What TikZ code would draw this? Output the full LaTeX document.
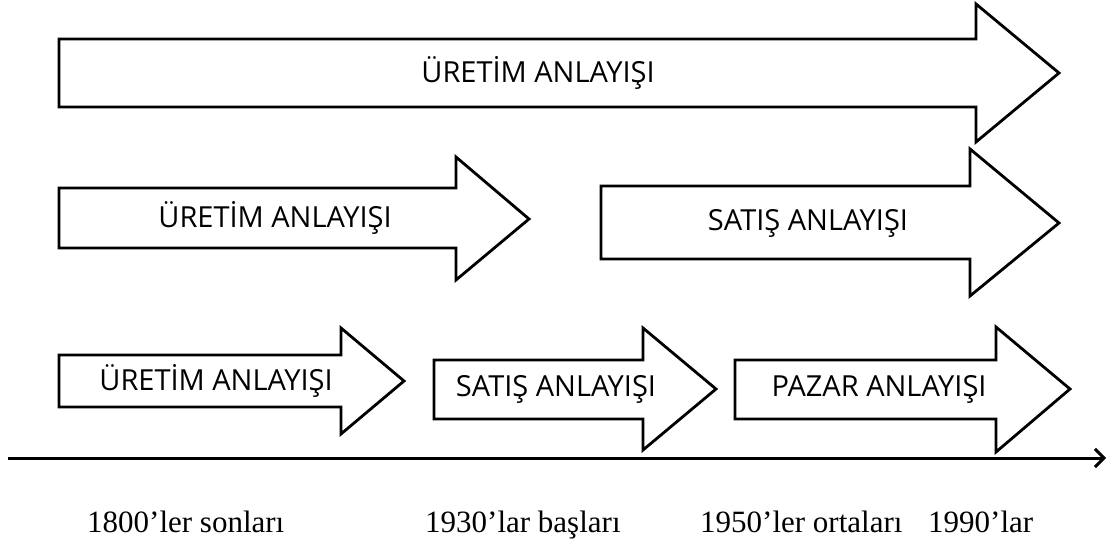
\documentclass[tikz,border=0pt]{standalone}
\usepackage{fontspec}
\newfontfamily\phasefont{Open Sans}
\newfontfamily\periodfont{Liberation Serif}
\usetikzlibrary{arrows.meta}
\tikzstyle{blockarrow} = [draw = black, line width = 2.8pt, fill = white, line join = miter]
\tikzstyle{phase} = [font = \phasefont\fontsize{29}{34}\selectfont, text centered, inner sep = 0pt]
\tikzstyle{period} = [font = \periodfont\fontsize{31}{36}\selectfont, anchor = base west, inner sep = 0pt]
\tikzstyle{timeline} = [line width = 3pt, -{Straight Barb[length = 9pt, width = 18pt]}]

\begin{document}
\begin{tikzpicture}[x = 1pt, y = -1pt]
    \useasboundingbox (0,0) rectangle (1107,545);

    % first row
    \draw[blockarrow] (59,39) -- (976,39) -- (976,4) -- (1059,73) -- (976,142) -- (976,107) -- (59,107) -- cycle;
    \node(uretim1)[phase] at (538,73){ÜRETİM ANLAYIŞI};

    % second row
    \draw[blockarrow] (59,188) -- (456,188) -- (456,157) -- (529,219) -- (456,280) -- (456,248) -- (59,248) -- cycle;
    \node(uretim2)[phase] at (275,218){ÜRETİM ANLAYIŞI};
    \draw[blockarrow] (601,186) -- (970,186) -- (970,149) -- (1059,223) -- (970,296) -- (970,259) -- (601,259) -- cycle;
    \node(satis2)[phase] at (808,223){SATIŞ ANLAYIŞI};

    % third row
    \draw[blockarrow] (59,355) -- (341,355) -- (341,328) -- (404,381) -- (341,434) -- (341,407) -- (59,407) -- cycle;
    \node(uretim3)[phase] at (216,381){ÜRETİM ANLAYIŞI};
    \draw[blockarrow] (434,360) -- (643,360) -- (643,328) -- (716,389) -- (643,450) -- (643,419) -- (434,419) -- cycle;
    \node(satis3)[phase] at (556,389){SATIŞ ANLAYIŞI};
    \draw[blockarrow] (735,360) -- (996,360) -- (996,327) -- (1070,389) -- (996,452) -- (996,419) -- (735,419) -- cycle;
    \node(pazar3)[phase] at (879,389){PAZAR ANLAYIŞI};

    % time axis
    \coordinate(start) at (8,458);
    \coordinate(end) at (1106,458);
    \draw[timeline](start)--(end);

    \node(y1800)[period] at (87,532){1800’ler sonları};
    \node(y1930)[period] at (425,532){1930’lar başları};
    \node(y1950)[period] at (700,532){1950’ler ortaları};
    \node(y1990)[period] at (928,532){1990’lar};
\end{tikzpicture}
\end{document}
